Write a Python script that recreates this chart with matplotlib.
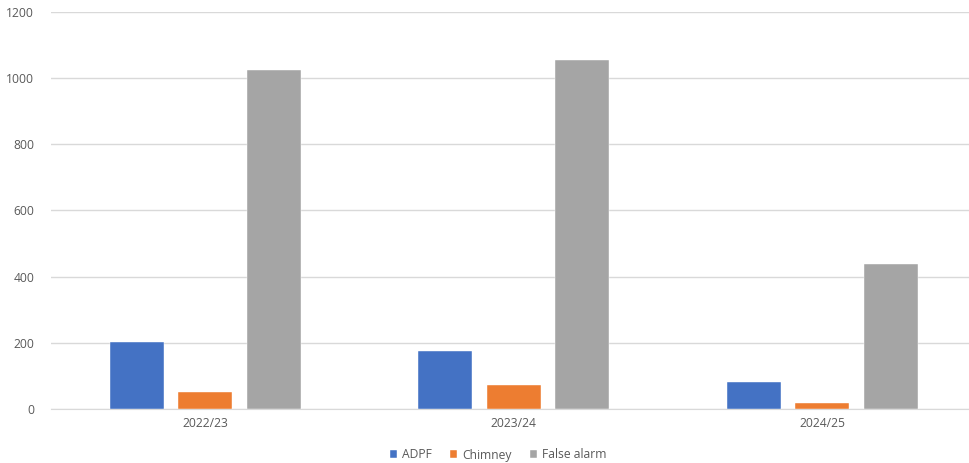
import matplotlib.pyplot as plt
import numpy as np

# Incident counts per financial year
years = ["2022/23", "2023/24", "2024/25"]
adpf = [203, 175, 81]
chimney = [52, 72, 17]
false_alarm = [1026, 1054, 438]

series = [("ADPF", adpf, "#4472C4"),
          ("Chimney", chimney, "#ED7D31"),
          ("False alarm", false_alarm, "#A5A5A5")]

plt.rcParams["font.family"] = ["Open Sans", "DejaVu Sans"]

fig = plt.figure(figsize=(9.69, 4.63), dpi=100)
ax = fig.add_axes([51 / 969, 1 - 409 / 463, 919 / 969, (409 - 12) / 463])

x = np.arange(len(years))
width = 0.175
step = 0.222
for i, (name, vals, color) in enumerate(series):
    ax.bar(x + (i - 1) * step, vals, width, color=color, label=name,
           edgecolor="white", linewidth=0.3, zorder=3)

ax.set_ylim(0, 1200)
ax.set_xlim(-0.5, 2.479)
ax.set_yticks(range(0, 1201, 200))
ax.set_xticks(x)
ax.set_xticklabels(years)
ax.grid(axis="y", color="#D9D9D9", linewidth=1, zorder=0)
ax.tick_params(axis="both", length=0, labelsize=8.7, colors="#595959")
ax.tick_params(axis="y", pad=12)
ax.tick_params(axis="x", pad=6)
for side in ["top", "right", "left"]:
    ax.spines[side].set_visible(False)
ax.spines["bottom"].set_color("#D9D9D9")

leg = fig.legend(loc="center", bbox_to_anchor=(498 / 969, 1 - 455 / 463), ncol=3,
                 frameon=False, fontsize=8.7, handlelength=0.6, handleheight=0.6,
                 handletextpad=0.4, columnspacing=1.5, labelcolor="#595959")

fig.savefig("out.png", dpi=100)
